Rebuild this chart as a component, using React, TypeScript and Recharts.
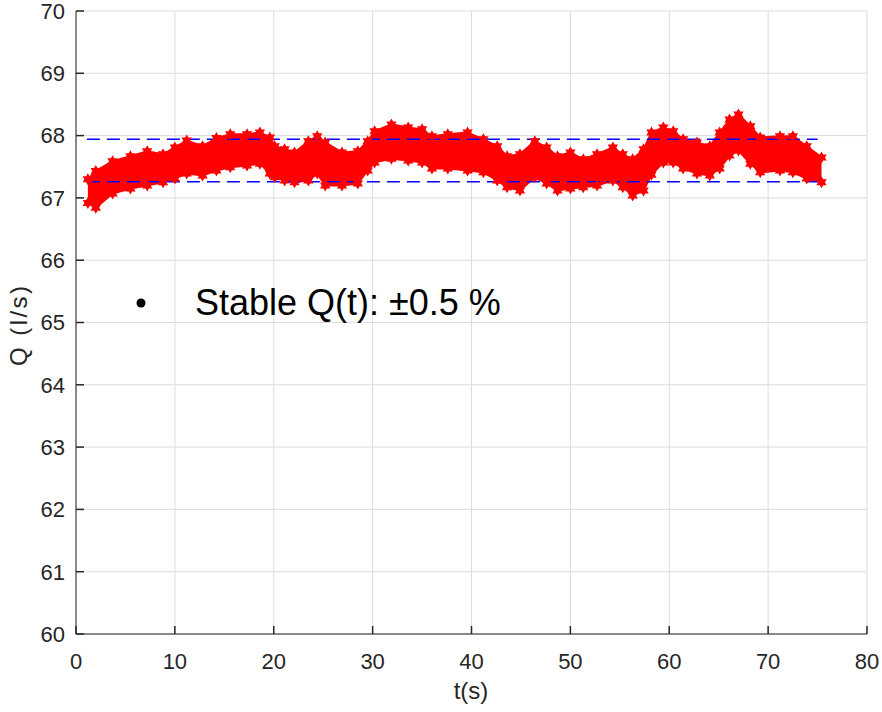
import React from "react";
import {
  ComposedChart,
  Area,
  Line,
  XAxis,
  YAxis,
  CartesianGrid,
  ReferenceLine,
} from "recharts";

// time samples (s) along the measured band
const tValues = [
  1.2, 2.0, 3.7, 5.5, 7.2, 8.8, 10, 11.2, 12.8, 14.2, 15.6, 17.3, 18.6, 19.6, 20.1,
  21.1, 22.1, 23.5, 24.4, 25.2, 26.9, 28.5, 29.5, 30.2, 31.9, 33.6, 35, 36, 37.6,
  39.6, 41.2, 42.6, 43.6, 44.9, 46.4, 47.6, 48.7, 50, 51.3, 52.7, 54.3, 55.3, 56.3,
  57.4, 58.2, 59.4, 60.4, 61.4, 62.8, 64.1, 65.1, 66.1, 67, 68.2, 69.2, 71.2, 72.5,
  73.9, 75.4,
];

// upper edge of the Q(t) band (l/s)
const upperEdge = [
  67.3, 67.43, 67.59, 67.67, 67.75, 67.7, 67.81, 67.92, 67.83, 67.96, 68.02, 68.02,
  68.05, 67.97, 67.83, 67.78, 67.73, 67.91, 67.99, 67.89, 67.73, 67.75, 67.91, 68.07,
  68.18, 68.13, 68.1, 67.99, 68.02, 68.05, 67.94, 67.83, 67.67, 67.7, 67.91, 67.81,
  67.67, 67.73, 67.62, 67.7, 67.81, 67.7, 67.62, 67.78, 68.05, 68.13, 68.07, 67.94,
  67.89, 67.83, 68.05, 68.26, 68.34, 68.15, 67.97, 67.99, 67.99, 67.83, 67.65,
];

// lower edge of the Q(t) band (l/s)
const lowerEdge = [
  66.92, 66.84, 67.07, 67.15, 67.2, 67.25, 67.31, 67.39, 67.36, 67.44, 67.49, 67.52,
  67.55, 67.39, 67.33, 67.28, 67.25, 67.28, 67.39, 67.2, 67.2, 67.23, 67.44, 67.57,
  67.63, 67.6, 67.57, 67.47, 67.47, 67.44, 67.41, 67.28, 67.17, 67.12, 67.33, 67.23,
  67.12, 67.15, 67.17, 67.2, 67.28, 67.17, 67.04, 67.12, 67.37, 67.57, 67.57, 67.47,
  67.39, 67.36, 67.47, 67.68, 67.76, 67.55, 67.41, 67.44, 67.41, 67.31, 67.25,
];

const xTicks = [0, 10, 20, 30, 40, 50, 60, 70, 80];
const yTicks = [60, 61, 62, 63, 64, 65, 66, 67, 68, 69, 70];

// +/-0.5 % limits around the mean flow
const limitStart = 1.1;
const limitEnd = 75;
const limitUpper = 67.94;
const limitLower = 67.26;

const bandData = tValues.map((t, i) => ({
  t,
  band: [lowerEdge[i], upperEdge[i]],
  hi: upperEdge[i],
  lo: lowerEdge[i],
}));

const FONT = '"Liberation Sans", Arial, Helvetica, sans-serif';
const AXIS_COLOR = "#262626";
const TICK_LEN = 8;
const X_GAP = 19;
const Y_GAP = 11;

function Hexagram(props: any) {
  const { cx, cy, index } = props;
  if (cx == null || cy == null) return <g key={index} />;
  const outer = 6;
  const inner = outer * 0.577;
  const pts: string[] = [];
  for (let k = 0; k < 12; k++) {
    const r = k % 2 === 0 ? outer : inner;
    const a = (Math.PI / 6) * k - Math.PI / 2;
    pts.push(`${cx + r * Math.cos(a)},${cy + r * Math.sin(a)}`);
  }
  return <polygon key={index} points={pts.join(" ")} fill="#ff0000" stroke="none" />;
}

// MATLAB style: tick marks point into the plot box
function BoxTick(props: any) {
  const { x, y, payload, side } = props;
  const s = { stroke: AXIS_COLOR, strokeWidth: 1.5 };
  if (side === "bottom") {
    const ay = y - X_GAP;
    return (
      <g>
        <line x1={x} x2={x} y1={ay} y2={ay - TICK_LEN} {...s} />
        <text x={x} y={y} dy="0.71em" textAnchor="middle" fill={AXIS_COLOR} fontSize={22} fontFamily={FONT}>
          {payload.value}
        </text>
      </g>
    );
  }
  if (side === "left") {
    const ax = x + Y_GAP;
    return (
      <g>
        <line x1={ax} x2={ax + TICK_LEN} y1={y} y2={y} {...s} />
        <text x={x} y={y} dy="0.355em" textAnchor="end" fill={AXIS_COLOR} fontSize={22} fontFamily={FONT}>
          {payload.value}
        </text>
      </g>
    );
  }
  if (side === "top") {
    return <line x1={x} x2={x} y1={y} y2={y + TICK_LEN} {...s} />;
  }
  return <line x1={x} x2={x - TICK_LEN} y1={y} y2={y} {...s} />;
}

export default function App() {
  return (
    <div style={{ position: "absolute", left: 0, top: 0, width: 882, height: 712, background: "#fff" }}>
      <ComposedChart
        width={882}
        height={712}
        data={bandData}
        margin={{ top: 11, right: 15, bottom: 0, left: 0 }}
      >
        <CartesianGrid
          xAxisId="bottom"
          yAxisId="left"
          stroke="#dcdcdc"
          strokeWidth={1}
        />
        <XAxis
          xAxisId="bottom"
          dataKey="t"
          type="number"
          domain={[0, 80]}
          ticks={xTicks}
          height={78}
          stroke={AXIS_COLOR}
          tickSize={0}
          tickMargin={X_GAP}
          tickLine={false}
          tick={(p: any) => <BoxTick {...p} side="bottom" />}
          allowDataOverflow
        />
        <XAxis
          xAxisId="top"
          orientation="top"
          dataKey="t"
          type="number"
          domain={[0, 80]}
          ticks={xTicks}
          height={0}
          stroke={AXIS_COLOR}
          tickSize={0}
          tickMargin={0}
          tickLine={false}
          tick={(p: any) => <BoxTick {...p} side="top" />}
          allowDataOverflow
        />
        <YAxis
          yAxisId="left"
          type="number"
          domain={[60, 70]}
          ticks={yTicks}
          width={76}
          stroke={AXIS_COLOR}
          tickSize={0}
          tickMargin={Y_GAP}
          tickLine={false}
          tick={(p: any) => <BoxTick {...p} side="left" />}
          allowDataOverflow
        />
        <YAxis
          yAxisId="right"
          orientation="right"
          type="number"
          domain={[60, 70]}
          ticks={yTicks}
          width={0}
          stroke={AXIS_COLOR}
          tickSize={0}
          tickMargin={0}
          tickLine={false}
          tick={(p: any) => <BoxTick {...p} side="right" />}
          allowDataOverflow
        />
        <Area
          xAxisId="bottom"
          yAxisId="left"
          type="linear"
          dataKey="band"
          stroke="#ff0000"
          strokeWidth={2}
          fill="#ff0000"
          fillOpacity={1}
          isAnimationActive={false}
          activeDot={false}
        />
        <Line
          xAxisId="bottom"
          yAxisId="left"
          dataKey="hi"
          stroke="none"
          dot={(p: any) => <Hexagram key={`h${p.index}`} {...p} />}
          activeDot={false}
          isAnimationActive={false}
        />
        <Line
          xAxisId="bottom"
          yAxisId="left"
          dataKey="lo"
          stroke="none"
          dot={(p: any) => <Hexagram key={`l${p.index}`} {...p} />}
          activeDot={false}
          isAnimationActive={false}
        />
        <ReferenceLine
          xAxisId="bottom"
          yAxisId="left"
          segment={[
            { x: limitStart, y: limitUpper },
            { x: limitEnd, y: limitUpper },
          ]}
          stroke="#0000ff"
          strokeWidth={1.5}
          strokeDasharray="13 7"
        />
        <ReferenceLine
          xAxisId="bottom"
          yAxisId="left"
          segment={[
            { x: limitStart, y: limitLower },
            { x: limitEnd, y: limitLower },
          ]}
          stroke="#0000ff"
          strokeWidth={1.5}
          strokeDasharray="13 7"
        />
      </ComposedChart>
      <svg
        width={882}
        height={712}
        style={{ position: "absolute", left: 0, top: 0, pointerEvents: "none" }}
      >
        <text x={471} y={699} textAnchor="middle" fontSize={24} fontFamily={FONT} fill={AXIS_COLOR}>
          t(s)
        </text>
        <text
          transform="translate(27, 326) rotate(-90)"
          textAnchor="middle"
          fontSize={24}
          fontFamily={FONT}
          fill={AXIS_COLOR}
          textLength={80}
          lengthAdjust="spacing"
        >
          Q (l/s)
        </text>
        <circle cx={141} cy={303} r={4.5} fill="#000" />
        <text x={195} y={315} fontSize={36} fontFamily={FONT} fill="#000">
          Stable Q(t): ±0.5 %
        </text>
      </svg>
    </div>
  );
}
